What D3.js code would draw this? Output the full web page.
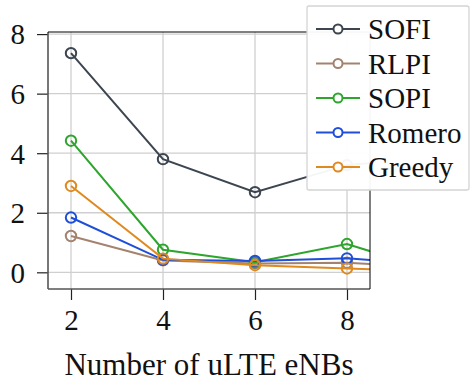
<!DOCTYPE html>
<html>
<head>
<meta charset="utf-8">
<script src="https://cdn.jsdelivr.net/npm/d3@7"></script>
</head>
<body style="margin:0">
<svg id="chart" width="470" height="384" font-family="Times New Roman"></svg>
<script>
// Number of uLTE eNBs on the x axis
const nodeCounts = [2, 4, 6, 8, 10];
const xTicks = [2, 4, 6, 8];
const yTicks = [0, 2, 4, 6, 8];

const seriesNames = ["SOFI", "RLPI", "SOPI", "Romero", "Greedy"];
const seriesColors = ["#3c4550", "#a3836e", "#2ea52d", "#1f4fd8", "#df8a1f"];

const sofiValues   = [7.36, 3.80, 2.69, 3.60, 3.90];
const rlpiValues   = [1.22, 0.40, 0.30, 0.32, 0.16];
const sopiValues   = [4.42, 0.76, 0.34, 0.95, 0.00];
const romeroValues = [1.84, 0.42, 0.38, 0.47, 0.23];
const greedyValues = [2.90, 0.46, 0.24, 0.13, 0.02];

const seriesValues = [sofiValues, rlpiValues, sopiValues, romeroValues, greedyValues];

const svg = d3.select("#chart");
const plot = { left: 48, right: 370, top: 32, bottom: 289 };

const x = d3.scaleLinear().domain([1.5, 8.5]).range([plot.left, plot.right]);
const y = d3.scaleLinear().domain([-0.56, 8.07]).range([plot.bottom, plot.top]);

// grid
const grid = svg.append("g");
grid.selectAll("line.gx").data(xTicks).join("line")
  .attr("x1", d => x(d)).attr("x2", d => x(d))
  .attr("y1", plot.top).attr("y2", plot.bottom)
  .attr("stroke", "#cfcfcf").attr("stroke-width", 1.3);
grid.selectAll("line.gy").data(yTicks).join("line")
  .attr("y1", d => y(d)).attr("y2", d => y(d))
  .attr("x1", plot.left).attr("x2", plot.right)
  .attr("stroke", "#cfcfcf").attr("stroke-width", 1.3);

// clip region for the data
svg.append("defs").append("clipPath").attr("id", "plotClip")
  .append("rect")
  .attr("x", plot.left).attr("y", plot.top)
  .attr("width", plot.right - plot.left).attr("height", plot.bottom - plot.top);

const data = seriesNames.map((name, i) => ({
  name, color: seriesColors[i],
  points: nodeCounts.map((n, j) => ({ x: n, y: seriesValues[i][j] }))
}));

const line = d3.line().x(d => x(d.x)).y(d => y(d.y));
const marks = svg.append("g").attr("clip-path", "url(#plotClip)");

data.forEach(s => {
  const g = marks.append("g");
  g.append("path").datum(s.points)
    .attr("d", line)
    .attr("fill", "none")
    .attr("stroke", s.color)
    .attr("stroke-width", 2);
  g.selectAll("circle").data(s.points).join("circle")
    .attr("cx", d => x(d.x)).attr("cy", d => y(d.y))
    .attr("r", 5.2)
    .attr("fill", "none")
    .attr("stroke", s.color)
    .attr("stroke-width", 2);
});

// axes
const xAxis = d3.axisBottom(x).tickValues(xTicks).tickSize(11).tickPadding(9).tickFormat(d3.format("d"));
const yAxis = d3.axisLeft(y).tickValues(yTicks).tickSize(11).tickPadding(12).tickFormat(d3.format("d"));

const gx = svg.append("g").attr("transform", `translate(0,${plot.bottom})`).call(xAxis);
const gy = svg.append("g").attr("transform", `translate(${plot.left},0)`).call(yAxis);

[gx, gy].forEach(g => {
  g.attr("font-family", "serif").attr("font-size", 29);
  g.select(".domain").remove();
  g.selectAll(".tick line").attr("stroke", "#222").attr("stroke-width", 1.2);
  g.selectAll(".tick text").attr("fill", "#111");
});
gy.selectAll(".tick text").attr("dy", "0.34em");

// frame: left/bottom spines in grey, top/right in black
svg.append("line").attr("x1", plot.left).attr("x2", plot.left)
  .attr("y1", plot.top).attr("y2", plot.bottom)
  .attr("stroke", "#555").attr("stroke-width", 1.6);
svg.append("line").attr("x1", plot.left).attr("x2", plot.right)
  .attr("y1", plot.bottom).attr("y2", plot.bottom)
  .attr("stroke", "#555").attr("stroke-width", 1.6);
svg.append("line").attr("x1", plot.left).attr("x2", plot.right)
  .attr("y1", plot.top).attr("y2", plot.top)
  .attr("stroke", "#000").attr("stroke-width", 1);
svg.append("line").attr("x1", plot.right).attr("x2", plot.right)
  .attr("y1", plot.top).attr("y2", plot.bottom)
  .attr("stroke", "#000").attr("stroke-width", 1);

// x axis title
svg.append("text")
  .attr("x", (plot.left + plot.right) / 2)
  .attr("y", 375)
  .attr("text-anchor", "middle")
  .attr("font-size", 31)
  .attr("fill", "#111")
  .text("Number of uLTE eNBs");

// legend
const legend = svg.append("g");
legend.append("rect")
  .attr("x", 307).attr("y", 6)
  .attr("width", 162).attr("height", 184)
  .attr("rx", 2)
  .attr("fill", "#fff").attr("fill-opacity", 0.95)
  .attr("stroke", "#d4d4d4").attr("stroke-width", 1.3);

const rowY = d3.scalePoint().domain(seriesNames).range([29, 167]);
const rows = legend.selectAll("g.row").data(data).join("g")
  .attr("transform", d => `translate(0,${rowY(d.name)})`);
rows.append("line")
  .attr("x1", 316).attr("x2", 360)
  .attr("stroke", d => d.color).attr("stroke-width", 2);
rows.append("circle")
  .attr("cx", 338).attr("r", 4.5)
  .attr("fill", "#fff")
  .attr("stroke", d => d.color).attr("stroke-width", 2);
rows.append("text")
  .attr("x", 368).attr("dy", "0.35em")
  .attr("font-family", "Liberation Serif")
  .attr("font-size", 29)
  .attr("fill", "#111")
  .text(d => d.name);
</script>
</body>
</html>
